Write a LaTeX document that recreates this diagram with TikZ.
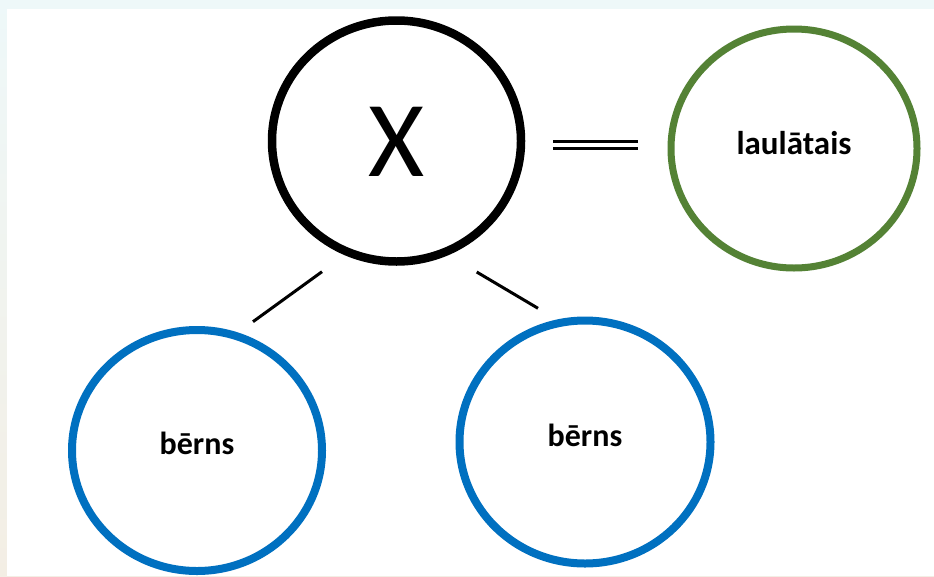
\documentclass[tikz,border=0pt]{standalone}
\usepackage{fontspec}
\setmainfont{Carlito}
\usetikzlibrary{shapes.geometric}
\definecolor{kgreen}{HTML}{548235}
\definecolor{kblue}{HTML}{0070C0}
\definecolor{bgtop}{HTML}{EEF8F9}
\definecolor{bgbot}{HTML}{F3EEE4}
\begin{document}
\begin{tikzpicture}[x=1pt,y=-1pt,
  person/.style={ellipse, draw, inner sep=0pt, outer sep=0pt, fill=white},
  lbl/.style={anchor=base, inner sep=0pt, font=\fontsize{32}{38}\selectfont\bfseries},
  link/.style={line width=3pt, draw=black}
]
\useasboundingbox (0,0) rectangle (934,576);
\shade[top color=bgtop, bottom color=bgbot] (0,0) rectangle (934,576);
\fill[white] (7,9) rectangle (934,576);

\node[person, line width=8.5pt, draw=black, minimum width=249pt, minimum height=241pt] (x) at (396.5,141) {};
\node[person, line width=7pt, draw=kgreen, minimum width=246pt, minimum height=239pt] (sp) at (794,148.5) {};
\node[person, line width=8pt, draw=kblue, minimum width=250pt, minimum height=241pt] (c1) at (197,450.5) {};
\node[person, line width=8pt, draw=kblue, minimum width=251pt, minimum height=243pt] (c2) at (585,442) {};

\node[anchor=base, inner sep=0pt, font=\fontsize{108}{120}\selectfont] (xt) at (397,176) {X};
\node[lbl, font=\fontsize{33}{40}\selectfont\bfseries] (spt) at (794,154.3) {laulātais};
\node[lbl] (c1t) at (197,454.5) {bērns};
\node[lbl] (c2t) at (585,446) {bērns};

\coordinate (m1) at (553,145);
\coordinate (m2) at (638,145);
\coordinate (a1) at (322,271.7);
\coordinate (a2) at (253,321.7);
\coordinate (b1) at (476.7,272);
\coordinate (b2) at (538,308.3);

\draw[line width=3.2pt, double=white, double distance=3.3pt] (m1) -- (m2);
\draw[link] (a1) -- (a2);
\draw[link] (b1) -- (b2);
\end{tikzpicture}
\end{document}
